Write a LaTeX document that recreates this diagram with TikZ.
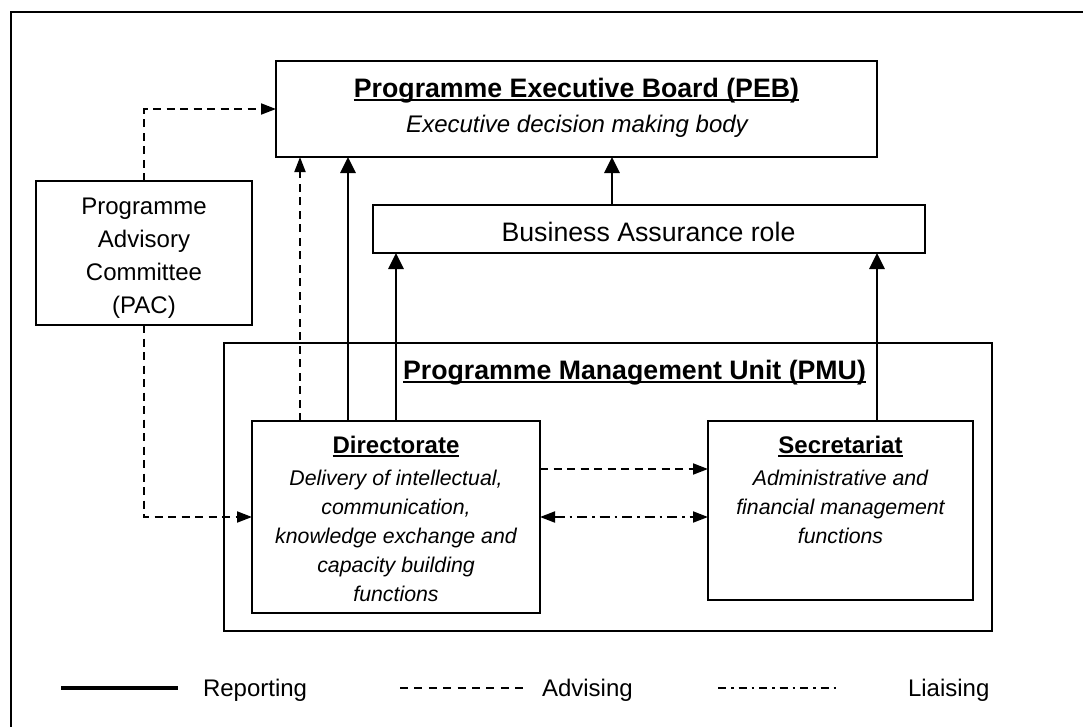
\documentclass[tikz,border=0pt]{standalone}
\usepackage{fontspec}
\setmainfont{Liberation Sans}
\usetikzlibrary{arrows.meta}
\newcommand\thul[1]{\setbox0\hbox{#1}\rlap{\rule[-4pt]{\wd0}{2.5pt}}\box0}
\newcommand\fbig{\fontsize{26.7}{32}\selectfont}
\newcommand\fmid{\fontsize{24}{29}\selectfont}
\newcommand\fsml{\fontsize{21.3}{29}\selectfont}
\begin{document}
\begin{tikzpicture}[x=1pt,y=-1pt,
  box/.style={draw,line width=1.8pt,inner sep=0pt,outer sep=0pt},
  tx/.style={inner sep=0pt,outer sep=0pt,anchor=base},
  txl/.style={inner sep=0pt,outer sep=0pt,anchor=base west},
  rep/.style={line width=2.8pt,-{Triangle[length=16pt,width=15pt]}},
  adv/.style={line width=1.9pt,dash pattern=on 8pt off 5.5pt,-{Triangle[length=15pt,width=11pt]}},
  lia/.style={line width=1.9pt,dash pattern=on 10pt off 5pt on 2.5pt off 5pt,{Triangle[length=15pt,width=11pt]}-{Triangle[length=15pt,width=11pt]}},
]
\useasboundingbox (0,0) rectangle (1083,726);
\clip (0,0) rectangle (1083,726);
% outer frame
\draw[line width=1.2pt] (11,740) -- (11,12) -- (1100,12);

% boxes
\node[box,minimum width=601pt,minimum height=96pt] (peb) at (576.5,109) {};
\node[box,minimum width=552pt,minimum height=48pt] (ba) at (649,229) {};
\node[box,minimum width=216pt,minimum height=144pt] (pac) at (144,253) {};
\node[box,minimum width=768pt,minimum height=288pt] (pmu) at (608,487) {};
\node[box,minimum width=288pt,minimum height=192pt] (dir) at (396,517) {};
\node[box,minimum width=265pt,minimum height=179pt] (sec) at (840.5,510.5) {};

% texts
\node[tx] (pebt) at (576.5,97) {\fbig\bfseries\thul{Programme Executive Board (PEB)}};
\node[tx] (pebs) at (577,132) {\fmid\itshape Executive decision making body};
\node[tx] (bat) at (648.5,241) {\fbig Business Assurance role};
\node[tx] (pac1) at (144,214) {\fmid Programme};
\node[tx] (pac2) at (144,247) {\fmid Advisory};
\node[tx] (pac3) at (144,280) {\fmid Committee};
\node[tx] (pac4) at (144,313) {\fmid (PAC)};
\node[tx] (pmut) at (634.5,379) {\fbig\bfseries\thul{Programme Management Unit (PMU)}};
\node[tx] (dirt) at (396,453) {\fmid\bfseries\thul{Directorate}};
\node[tx] (dir1) at (396,485) {\fsml\itshape Delivery of intellectual,};
\node[tx] (dir2) at (396,514) {\fsml\itshape communication,};
\node[tx] (dir3) at (396,543) {\fsml\itshape knowledge exchange and};
\node[tx] (dir4) at (396,572) {\fsml\itshape capacity building};
\node[tx] (dir5) at (396,601) {\fsml\itshape functions};
\node[tx] (sect) at (840.5,453) {\fmid\bfseries\thul{Secretariat}};
\node[tx] (sec1) at (840.5,485) {\fsml\itshape Administrative and};
\node[tx] (sec2) at (840.5,514) {\fsml\itshape financial management};
\node[tx] (sec3) at (840.5,543) {\fsml\itshape functions};

% connector x/y positions
\coordinate (xa) at (300,0);
\coordinate (xb) at (348,0);
\coordinate (xc) at (612,0);
\coordinate (xd) at (877,0);
\coordinate (ya) at (0,469);

% connectors
\draw[adv] (pac.north) |- (peb.west);
\draw[adv] (pac.south) |- (dir.west);
\draw[adv] (dir.north -| xa) -- (peb.south -| xa);
\draw[rep] (dir.north -| xb) -- (peb.south -| xb);
\draw[rep] (dir.north) -- (ba.south -| dir.north);
\draw[rep] (ba.north -| xc) -- (peb.south -| xc);
\draw[rep] (sec.north -| xd) -- (ba.south -| xd);
\draw[adv] (dir.east |- ya) -- (sec.west |- ya);
\draw[lia] (dir.east) -- (sec.west |- dir.east);

% legend
\coordinate (l1a) at (61,688);
\coordinate (l1b) at (178,688);
\coordinate (l2a) at (400,688);
\coordinate (l2b) at (523,688);
\coordinate (l3a) at (718,688);
\coordinate (l3b) at (836,688);
\draw[line width=3.2pt] (l1a) -- (l1b);
\draw[line width=1.6pt,dash pattern=on 8pt off 6.4pt] (l2a) -- (l2b);
\draw[line width=1.6pt,dash pattern=on 8pt off 5pt on 2.5pt off 5pt] (l3a) -- (l3b);
\node[txl] (lg1) at (203,696) {\fmid Reporting};
\node[txl] (lg2) at (542,696) {\fmid Advising};
\node[txl] (lg3) at (908,696) {\fmid Liaising};
\end{tikzpicture}
\end{document}
